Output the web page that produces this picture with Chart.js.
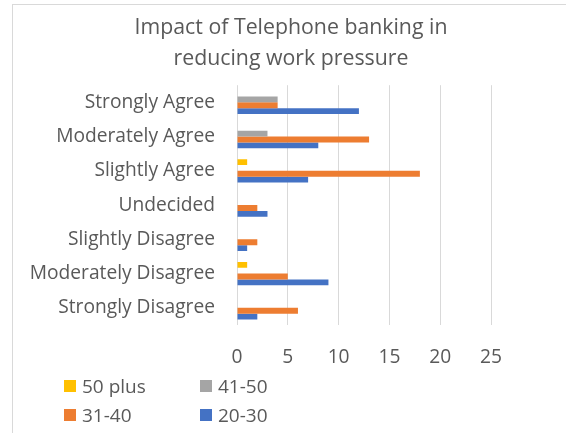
<!DOCTYPE html>
<html>
<head>
<meta charset="utf-8">
<script src="https://cdn.jsdelivr.net/npm/chart.js@4/dist/chart.umd.min.js"></script>
<style>
  html, body { margin: 0; padding: 0; background: #fff; overflow: hidden; }
  #frame {
    position: absolute; left: 12px; top: 4px; width: 570px; height: 440px;
    border: 1px solid #d9d9d9; box-sizing: border-box;
  }
  #wrap { position: absolute; left: 0; top: 0; width: 556px; height: 430px; }
  #legend {
    position: absolute; left: 51px; top: 368px; width: 300px;
    font-family: "Open Sans", sans-serif; font-size: 19px; color: #595959;
  }
  .item { position: absolute; display: flex; align-items: center; white-space: nowrap; }
  .box { width: 12px; height: 12px; margin-right: 6px; }
</style>
</head>
<body>
<div id="frame">
  <div id="wrap"><canvas id="chart"></canvas></div>
  <div id="legend"></div>
</div>
<script>
const categories = ['Strongly Agree', 'Moderately Agree', 'Slightly Agree', 'Undecided',
  'Slightly Disagree', 'Moderately Disagree', 'Strongly Disagree'];
const seriesNames = ['50 plus', '41-50', '31-40', '20-30'];
const age50plus = [0, 0, 1, 0, 0, 1, 0];
const age41to50 = [4, 3, 0, 0, 0, 0, 0];
const age31to40 = [4, 13, 18, 2, 2, 5, 6];
const age20to30 = [12, 8, 7, 3, 1, 9, 2];
const xTicks = [0, 5, 10, 15, 20, 25];

const colors = ['#FFC000', '#A5A5A5', '#ED7D31', '#4472C4'];
const seriesData = [age50plus, age41to50, age31to40, age20to30];
const textColor = '#595959';
const fontFamily = '"Open Sans", sans-serif';
const labelSize = 19.2;

const ctx = document.getElementById('chart').getContext('2d');

const chart = new Chart(ctx, {
  type: 'bar',
  data: {
    labels: categories,
    datasets: seriesNames.map((name, i) => ({
      label: name,
      data: seriesData[i],
      backgroundColor: colors[i],
      borderWidth: 0,
      categoryPercentage: 0.68,
      barPercentage: 1
    }))
  },
  options: {
    indexAxis: 'y',
    responsive: true,
    maintainAspectRatio: false,
    animation: false,
    layout: { padding: { left: 0, right: 0, top: 0, bottom: 62 } },
    plugins: {
      legend: { display: false },
      tooltip: { enabled: false },
      title: {
        display: true,
        text: ['Impact of Telephone banking in', 'reducing work pressure'],
        color: textColor,
        font: { family: fontFamily, size: 21.3, weight: 'normal', lineHeight: 1.46 },
        padding: { top: 7, bottom: 11 }
      }
    },
    scales: {
      x: {
        min: xTicks[0],
        max: xTicks[xTicks.length - 1],
        afterBuildTicks: (scale) => { scale.ticks = xTicks.map(v => ({ value: v })); },
        afterFit: (scale) => { scale.height = 48; },
        grid: { color: '#d9d9d9', drawTicks: false, lineWidth: 1 },
        border: { display: false },
        ticks: { color: textColor, padding: 21, font: { family: fontFamily, size: labelSize } }
      },
      y: {
        afterFit: (scale) => { scale.width = 224; },
        grid: { display: false, drawTicks: false },
        border: { display: false },
        ticks: { color: textColor, padding: 22, font: { family: fontFamily, size: labelSize } }
      },
      // empty strip on the right so the title stays centred over the whole frame
      yRight: {
        type: 'category',
        position: 'right',
        afterFit: (scale) => { scale.width = 78; },
        grid: { display: false, drawTicks: false },
        border: { display: false },
        ticks: { display: false }
      }
    }
  }
});

// two-column legend under the axis
const legend = document.getElementById('legend');
chart.data.datasets.forEach((ds, i) => {
  const item = document.createElement('div');
  item.className = 'item';
  item.style.left = (i % 2) * 136 + 'px';
  item.style.top = Math.floor(i / 2) * 29 + 'px';
  item.innerHTML = '<span class="box" style="background:' + ds.backgroundColor + '"></span>' + ds.label;
  legend.appendChild(item);
});
</script>
</body>
</html>
